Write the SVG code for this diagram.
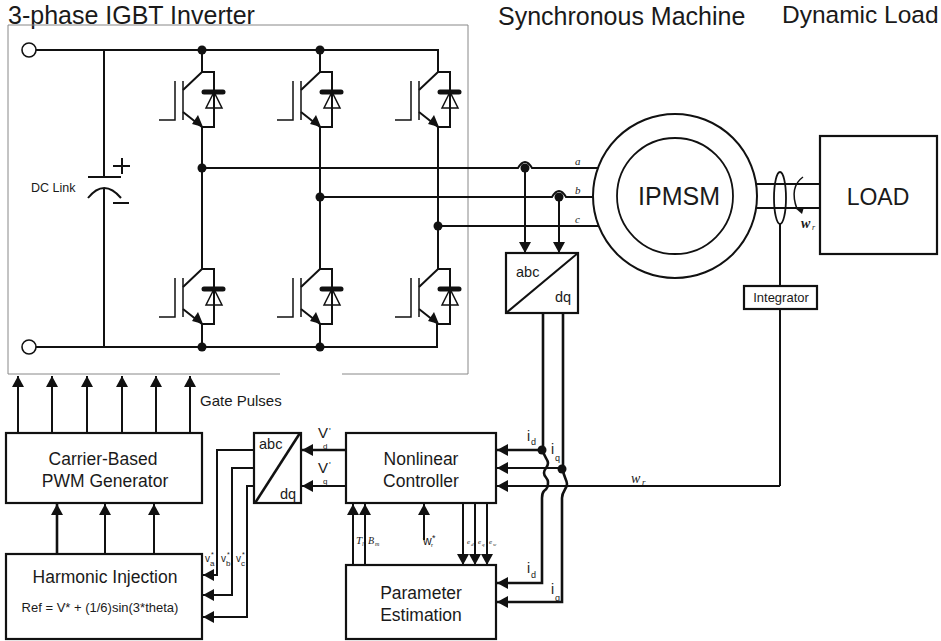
<svg xmlns="http://www.w3.org/2000/svg" width="941" height="641" viewBox="0 0 941 641">
<style>
text{font-family:"Liberation Sans",Arial,sans-serif;fill:#1a1a1a}
.it{font-family:"Liberation Serif","Times New Roman",serif;font-style:italic}
.w{fill:none;stroke:#111;stroke-width:2}
.t{fill:none;stroke:#111;stroke-width:2.6}
.th{fill:none;stroke:#111;stroke-width:1.5}
.b{fill:#fff;stroke:#111;stroke-width:2.2}
.m{text-anchor:middle}
.a{marker-end:url(#ah)}
</style>
<defs>
<marker id="ah" markerUnits="userSpaceOnUse" markerWidth="12" markerHeight="12" refX="11" refY="6" orient="auto"><path d="M0,0L11,6L0,12Z" fill="#111"/></marker>
<g id="igbt">
<path class="th" d="M175,81V120H159M183,81V120"/>
<path class="w" d="M183,90L202,72H214V127H202L183,112"/>
<path d="M203,127L192,124L198,115Z" fill="#111"/>
<path d="M204,92H223" stroke="#111" stroke-width="5" stroke-linecap="round" fill="none"/>
<path class="th" d="M214,92L206,108H222Z" fill="#fff"/>
</g>
</defs>
<rect width="941" height="641" fill="#fff"/>
<g id="titles">
<text x="8" y="24" font-size="25">3-phase IGBT Inverter</text>
<text x="498" y="25" font-size="25">Synchronous Machine</text>
<text x="782" y="23" font-size="24.5">Dynamic Load</text>
</g>
<g id="inverter">
<path d="M280,374H8V25H468V374H342" fill="none" stroke="#888" stroke-width="1"/>
<circle cx="29" cy="50" r="7" fill="#fff" stroke="#111" stroke-width="1.6"/>
<circle cx="29" cy="347" r="7" fill="#fff" stroke="#111" stroke-width="1.6"/>
<path class="w" d="M36,50H438V72M36,347H437V324M104,50V177M104,188V347M202,50V72M320,50V72M202,127V269M320,127V269M438,127V269M202,324V347M320,324V347"/>
<path class="w" d="M88,177H121M88,198Q104,178 121,198"/>
<path class="w" d="M113,166H130M122,158V174M113,203H129"/>
<text x="31" y="192" font-size="12.5">DC Link</text>
<use href="#igbt"/><use href="#igbt" x="118"/><use href="#igbt" x="236"/>
<use href="#igbt" y="197"/><use href="#igbt" x="118" y="197"/><use href="#igbt" x="236" y="197"/>
<g fill="#111"><circle cx="202" cy="50" r="4.5"/><circle cx="320" cy="50" r="4.5"/><circle cx="202" cy="168" r="4.5"/><circle cx="320" cy="197" r="4.5"/><circle cx="438" cy="226" r="4.5"/><circle cx="202" cy="347" r="4.5"/><circle cx="320" cy="347" r="4.5"/></g>
</g>
<g id="machine">
<circle cx="675" cy="196" r="82" fill="#fff" stroke="#111" stroke-width="2"/>
<circle cx="675" cy="196" r="58" fill="#fff" stroke="#111" stroke-width="1.8"/>
<text x="679" y="205" font-size="25" class="m">IPMSM</text>
</g>
<g id="load">
<rect x="820" y="136" width="117" height="118" class="b"/>
<text x="878" y="205" font-size="23" class="m">LOAD</text>
</g>
<g id="integrator">
<rect x="744" y="286" width="73" height="23" class="b" stroke-width="1.6"/>
<text x="781" y="302" font-size="13" class="m">Integrator</text>
</g>
<g id="abc-dq-top">
<rect x="506" y="253" width="72" height="60" class="b"/>
<path class="w" d="M506,313L578,253"/>
<text x="516" y="277" font-size="14.5">abc</text>
<text x="555" y="302" font-size="14.5">dq</text>
</g>
<g id="abc-dq-bottom">
<rect x="254" y="433" width="47" height="70" class="b"/>
<path class="t" d="M255,503L300,433"/>
<text x="259" y="449" font-size="14.5">abc</text>
<text x="280" y="499" font-size="14.5">dq</text>
</g>
<g id="pwm">
<rect x="6" y="433" width="196" height="70" class="b"/>
<text x="103" y="465" font-size="17.5" class="m">Carrier-Based</text>
<text x="105" y="487" font-size="17.5" class="m">PWM Generator</text>
</g>
<g id="harmonic">
<rect x="6" y="554" width="196" height="85" class="b"/>
<text x="105" y="583" font-size="17.5" class="m">Harmonic Injection</text>
<text x="100" y="612" font-size="13" class="m">Ref = V* + (1/6)sin(3*theta)</text>
</g>
<g id="controller">
<rect x="346" y="433" width="150" height="70" class="b"/>
<text x="421" y="465" font-size="17.5" class="m">Nonlinear</text>
<text x="421" y="487" font-size="17.5" class="m">Controller</text>
</g>
<g id="estimation">
<rect x="346" y="565" width="150" height="74" class="b"/>
<text x="421" y="599" font-size="17.5" class="m">Parameter</text>
<text x="421" y="621" font-size="17.5" class="m">Estimation</text>
</g>
<g id="connectors">
<path class="w" d="M202,168H518Q525,156 532,168H598M320,197H552Q559,185 566,197H594M438,226H598"/>
<circle cx="525" cy="168" r="4.5" fill="#111"/><circle cx="559" cy="197" r="4.5" fill="#111"/>
<path class="w a" d="M525,168V253"/><path class="w a" d="M559,197V253"/>
<path class="w" d="M756,184H820M756,208H820"/>
<ellipse cx="780" cy="198" rx="6" ry="26" fill="none" stroke="#111" stroke-width="1.8"/>
<path class="w" d="M780,224V286M780,309V486"/>
<path class="th" d="M803,177Q789,187 797,209"/>
<path d="M794,207L804,207L802,214Z" fill="#111"/>
<path class="t a" d="M543,313V450C543,456 548,459 548,463C548,468 544,468 544,473C544,477 548,478 548,482C548,486 548,488 544,491C542,493 542,495 542,498V583H497"/>
<path class="t a" d="M563,313V469C563,476 567,480 567,484C567,489 562,491 562,498V602H497"/>
<path class="t a" d="M542,450H497"/>
<path class="w a" d="M562,468H497"/>
<path class="w a" d="M780,486H497"/>
<circle cx="542" cy="450" r="4.5" fill="#111"/><circle cx="562" cy="469" r="4.5" fill="#111"/>
<path class="t a" d="M346,450H302"/>
<path class="w a" d="M346,486H302"/>
<path class="w a" d="M254,450H217V575H203"/>
<path class="w a" d="M254,468H232V595H203"/>
<path class="w a" d="M254,486H247V617H203"/>
<path class="t a" d="M57,554V504"/>
<path class="w a" d="M105,554V504"/>
<path class="w a" d="M154,554V504"/>
<path class="w a" d="M18,433V376"/><path class="w a" d="M52,433V376"/><path class="w a" d="M87,433V376"/><path class="w a" d="M122,433V376"/><path class="w a" d="M156,433V376"/><path class="w a" d="M190,433V376"/>
<path class="w a" d="M353,565V504"/><path class="w a" d="M365,565V504"/><path class="w a" d="M424,540V504"/>
<path class="w a" d="M463,503V565"/><path class="w a" d="M475,503V565"/><path class="w a" d="M487,503V565"/>
</g>
<g id="labels">
<text x="200" y="406" font-size="15">Gate Pulses</text>
<text x="575" y="165" font-size="11" class="it">a</text>
<text x="575" y="194" font-size="11" class="it">b</text>
<text x="575" y="223" font-size="11" class="it">c</text>
<text x="801" y="228" font-size="14" font-weight="bold" class="it">w</text><text x="812" y="230" font-size="8" class="it">r</text>
<text x="631" y="483" font-size="14" class="it">w</text><text x="642" y="485" font-size="9" class="it">r</text>
<text x="318" y="438" font-size="15">V</text><text x="329" y="434" font-size="9">'</text><text x="323" y="449" font-size="8">d</text>
<text x="318" y="473" font-size="15">V</text><text x="329" y="468" font-size="9">'</text><text x="323" y="484" font-size="8">q</text>
<text x="205" y="562" font-size="10">v</text><text x="211" y="557" font-size="7">*</text><text x="210" y="566" font-size="8">a</text>
<text x="221" y="562" font-size="10">v</text><text x="227" y="557" font-size="7">*</text><text x="226" y="566" font-size="8">b</text>
<text x="236" y="562" font-size="10">v</text><text x="242" y="557" font-size="7">*</text><text x="241" y="566" font-size="8">c</text>
<text x="527" y="441" font-size="14">i</text><text x="531" y="445" font-size="9">d</text>
<text x="551" y="454" font-size="14">i</text><text x="555" y="461" font-size="9">q</text>
<text x="527" y="573" font-size="14">i</text><text x="531" y="578" font-size="9">d</text>
<text x="551" y="594" font-size="14">i</text><text x="555" y="601" font-size="9">q</text>
<text x="356" y="544" font-size="11" class="it">T</text><text x="362" y="546" font-size="6" class="it">l</text>
<text x="368" y="544" font-size="10" class="it">B</text><text x="375" y="546" font-size="6" class="it">m</text>
<text x="423" y="545" font-size="12">w</text><text x="432" y="541" font-size="9">*</text><text x="431" y="547" font-size="6">r</text>
<text x="467" y="544" font-size="7" class="it">e</text><text x="471" y="546" font-size="5" class="it">d</text>
<text x="478" y="544" font-size="7" class="it">e</text><text x="482" y="546" font-size="5" class="it">q</text>
<text x="489" y="544" font-size="7" class="it">e</text><text x="493" y="546" font-size="5" class="it">w</text>
</g>
</svg>
